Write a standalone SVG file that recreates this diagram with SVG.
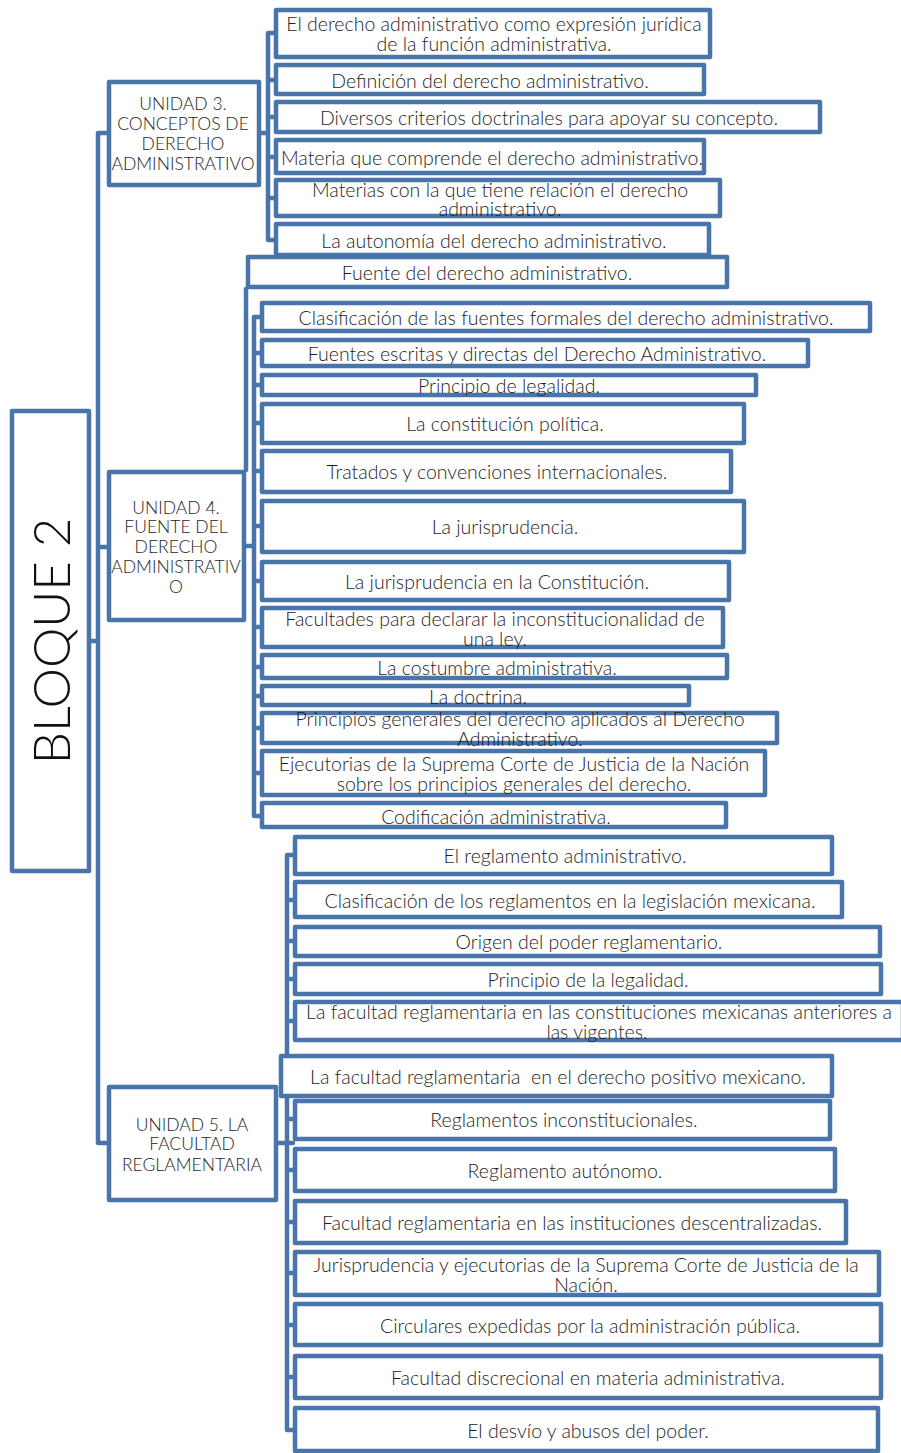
<svg xmlns="http://www.w3.org/2000/svg" width="901" height="1453" viewBox="0 0 901 1453">
<style>
.b{fill:#fff;stroke:#4a75ab;stroke-width:4.5;stroke-linejoin:round}
.c{fill:none;stroke:#4a75ab;stroke-width:4.5;stroke-linejoin:round;stroke-linecap:round}
text{font-family:Lato,"Open Sans","Liberation Sans",sans-serif;font-weight:300;fill:#1e1e1e;text-anchor:middle;dominant-baseline:central}
.t{font-size:19.5px}
.u{font-size:17.5px}
.big{font-size:51px;fill:#111}
</style>
<rect width="901" height="1453" fill="#fff"/>
<g id="connectors">
<path class="c" d="M107 133H98V1143H107M98 547H107M91 641H98"/>
<path class="c" d="M261 133H268M275 33H268V240H275M268 80H275M268 117H275M268 157H275M268 198H275"/>
<path class="c" d="M246 289V470M261 317H254V816H261M246 546H254M254 353H261M254 385H261M254 423H261M254 471H261M254 526H261M254 581H261M254 627H261M254 667H261M254 696H261M254 728H261M254 773H261"/>
<path class="c" d="M293 855H287V1430H293M278 1143H293M287 900H293M287 941H293M287 979H293M287 1021H293M287 1119H293M287 1170H293M287 1222H293M287 1273H293M287 1325H293M287 1377H293"/>
</g>
<g id="bloque"><rect class="b" x="12" y="411" width="77" height="460"/><text class="big" transform="translate(50 641) rotate(-90)">BLOQUE 2</text></g>
<g id="u3"><rect class="b" x="109" y="82" width="150" height="103"/><text class="u" x="183" y="103">UNIDAD 3.</text><text class="u" x="183" y="123">CONCEPTOS DE</text><text class="u" x="183" y="143">DERECHO</text><text class="u" x="183" y="163">ADMINISTRATIVO</text></g>
<g id="u4"><rect class="b" x="109" y="472" width="135" height="148"/><text class="u" x="176" y="507">UNIDAD 4.</text><text class="u" x="176" y="526">FUENTE DEL</text><text class="u" x="176" y="546">DERECHO</text><text class="u" x="176" y="566">ADMINISTRATIV</text><text class="u" x="176" y="586">O</text></g>
<g id="u5"><rect class="b" x="109" y="1087" width="167" height="113"/><text class="u" x="192" y="1124">UNIDAD 5. LA</text><text class="u" x="192" y="1143">FACULTAD</text><text class="u" x="192" y="1164">REGLAMENTARIA</text></g>
<g id="c1"><rect class="b" x="276" y="10" width="434" height="47"/><text class="t" x="494" y="23">El derecho administrativo como expresión jurídica</text><text class="t" x="494" y="43">de la función administrativa.</text></g>
<g id="c2"><rect class="b" x="276" y="65" width="428" height="29"/><text class="t" x="490" y="80">Definición del derecho administrativo.</text></g>
<g id="c3"><rect class="b" x="276" y="102" width="544" height="30"/><text class="t" x="549" y="117">Diversos criterios doctrinales para apoyar su concepto.</text></g>
<g id="c4"><rect class="b" x="276" y="140" width="428" height="33"/><text class="t" x="492" y="157">Materia que comprende el derecho administrativo.</text></g>
<g id="c5"><rect class="b" x="276" y="180" width="444" height="36"/><text class="t" x="500" y="189">Materias con la que tiene relación el derecho</text><text class="t" x="500" y="208">administrativo.</text></g>
<g id="c6"><rect class="b" x="276" y="224" width="433" height="31"/><text class="t" x="494" y="240">La autonomía del derecho administrativo.</text></g>
<g id="f0"><rect class="b" x="248" y="257" width="479" height="30"/><text class="t" x="487" y="272">Fuente del derecho administrativo.</text></g>
<g id="f1"><rect class="b" x="262" y="303" width="608" height="28"/><text class="t" x="566" y="317">Clasificación de las fuentes formales del derecho administrativo.</text></g>
<g id="f2"><rect class="b" x="262" y="340" width="546" height="26"/><text class="t" x="537" y="353">Fuentes escritas y directas del Derecho Administrativo.</text></g>
<g id="f3"><rect class="b" x="262" y="375" width="494" height="20"/><text class="t" x="509" y="385">Principio de legalidad.</text></g>
<g id="f4"><rect class="b" x="262" y="404" width="482" height="39"/><text class="t" x="505" y="423">La constitución política.</text></g>
<g id="f5"><rect class="b" x="262" y="451" width="469" height="41"/><text class="t" x="497" y="471">Tratados y convenciones internacionales.</text></g>
<g id="f6"><rect class="b" x="262" y="501" width="482" height="51"/><text class="t" x="505" y="526">La jurisprudencia.</text></g>
<g id="f7"><rect class="b" x="262" y="562" width="467" height="38"/><text class="t" x="497" y="581">La jurisprudencia en la Constitución.</text></g>
<g id="f8"><rect class="b" x="262" y="608" width="461" height="39"/><text class="t" x="495" y="618">Facultades para declarar la inconstitucionalidad de</text><text class="t" x="495" y="638">una ley.</text></g>
<g id="f9"><rect class="b" x="262" y="655" width="465" height="23"/><text class="t" x="497" y="667">La costumbre administrativa.</text></g>
<g id="f10"><rect class="b" x="262" y="686" width="427" height="19"/><text class="t" x="478" y="696">La doctrina.</text></g>
<g id="f11"><rect class="b" x="262" y="713" width="515" height="30"/><text class="t" x="520" y="718">Principios generales del derecho aplicados al Derecho</text><text class="t" x="520" y="738">Administrativo.</text></g>
<g id="f12"><rect class="b" x="262" y="751" width="503" height="44"/><text class="t" x="514" y="763">Ejecutorias de la Suprema Corte de Justicia de la Nación</text><text class="t" x="514" y="783">sobre los principios generales del derecho.</text></g>
<g id="f13"><rect class="b" x="262" y="803" width="464" height="24"/><text class="t" x="496" y="816">Codificación administrativa.</text></g>
<g id="r1"><rect class="b" x="295" y="837" width="537" height="37"/><text class="t" x="565" y="855">El reglamento administrativo.</text></g>
<g id="r2"><rect class="b" x="295" y="882" width="547" height="35"/><text class="t" x="570" y="900">Clasificación de los reglamentos en la legislación mexicana.</text></g>
<g id="r3"><rect class="b" x="295" y="927" width="585" height="29"/><text class="t" x="589" y="941">Origen del poder reglamentario.</text></g>
<g id="r4"><rect class="b" x="295" y="964" width="586" height="30"/><text class="t" x="588" y="979">Principio de la legalidad.</text></g>
<g id="r5"><rect class="b" x="295" y="1002" width="608" height="38"/><text class="t" x="599" y="1011">La facultad reglamentaria en las constituciones mexicanas anteriores a</text><text class="t" x="597" y="1031">las vigentes.</text></g>
<g id="r6"><rect class="b" x="281" y="1056" width="551" height="40"/><text class="t" x="558" y="1076" xml:space="preserve">La facultad reglamentaria  en el derecho positivo mexicano.</text></g>
<g id="r7"><rect class="b" x="295" y="1101" width="535" height="38"/><text class="t" x="564" y="1119">Reglamentos inconstitucionales.</text></g>
<g id="r8"><rect class="b" x="295" y="1149" width="540" height="42"/><text class="t" x="565" y="1170">Reglamento autónomo.</text></g>
<g id="r9"><rect class="b" x="295" y="1201" width="551" height="42"/><text class="t" x="572" y="1222">Facultad reglamentaria en las instituciones descentralizadas.</text></g>
<g id="r10"><rect class="b" x="295" y="1252" width="584" height="43"/><text class="t" x="586" y="1264">Jurisprudencia y ejecutorias de la Suprema Corte de Justicia de la</text><text class="t" x="586" y="1284">Nación.</text></g>
<g id="r11"><rect class="b" x="295" y="1304" width="586" height="41"/><text class="t" x="590" y="1325">Circulares expedidas por la administración pública.</text></g>
<g id="r12"><rect class="b" x="295" y="1356" width="586" height="42"/><text class="t" x="588" y="1377">Facultad discrecional en materia administrativa.</text></g>
<g id="r13"><rect class="b" x="295" y="1408" width="583" height="43"/><text class="t" x="588" y="1430">El desvío y abusos del poder.</text></g>
</svg>
